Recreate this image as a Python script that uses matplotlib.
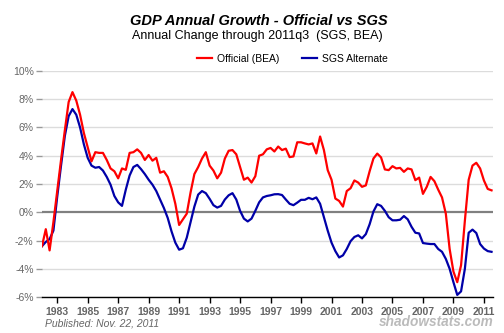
import numpy as np
import matplotlib

matplotlib.use("Agg")
import matplotlib.pyplot as plt


# =============================================================================
# DATA (quarterly, 1982q1 .. 2011q3, year-over-year % change)
# =============================================================================

START_YEAR = 1982

official = [
    -2.4, -1.2, -2.7, -0.7,    # 1982
    1.5, 3.7, 5.8, 7.8,        # 1983
    8.5, 7.9, 6.9, 5.6,        # 1984
    4.6, 3.6, 4.25, 4.2,       # 1985
    4.2, 3.7, 3.1, 2.9,        # 1986
    2.4, 3.1, 3.0, 4.2,        # 1987
    4.25, 4.45, 4.2, 3.7,      # 1988
    4.05, 3.65, 3.85, 2.8,     # 1989
    2.9, 2.5, 1.7, 0.6,        # 1990
    -0.9, -0.5, -0.1, 1.4,     # 1991
    2.7, 3.2, 3.8, 4.25,       # 1992
    3.3, 2.95, 2.4, 2.8,       # 1993
    3.8, 4.35, 4.4, 4.1,       # 1994
    3.2, 2.3, 2.45, 2.1,       # 1995
    2.55, 4.0, 4.1, 4.45,      # 1996
    4.55, 4.3, 4.65, 4.4,      # 1997
    4.5, 3.9, 3.95, 4.95,      # 1998
    4.95, 4.87, 4.8, 4.87,     # 1999
    4.16, 5.36, 4.4, 2.98,     # 2000
    2.3, 0.97, 0.8, 0.4,       # 2001
    1.5, 1.7, 2.25, 2.1,       # 2002
    1.8, 1.9, 2.9, 3.8,        # 2003
    4.15, 3.88, 3.03, 2.98,    # 2004
    3.26, 3.1, 3.14, 2.86,     # 2005
    3.1, 3.03, 2.27, 2.45,     # 2006
    1.3, 1.8, 2.5, 2.2,        # 2007
    1.6, 1.05, -0.1, -2.6,     # 2008
    -4.2, -4.95, -3.75, -0.6,  # 2009
    2.3, 3.3, 3.5, 3.1,        # 2010
    2.25, 1.65, 1.55,          # 2011
]

sgs = [
    -2.4, -2.1, -1.9, -1.3,     # 1982
    1.1, 3.3, 5.4, 6.8,         # 1983
    7.3, 6.9, 6.0, 4.8,         # 1984
    3.85, 3.3, 3.15, 3.2,       # 1985
    2.95, 2.5, 1.95, 1.15,      # 1986
    0.7, 0.45, 1.6, 2.6,        # 1987
    3.2, 3.35, 3.05, 2.7,       # 1988
    2.3, 1.95, 1.5, 0.9,        # 1989
    0.3, -0.4, -1.35, -2.15,    # 1990
    -2.65, -2.55, -1.8, -0.7,   # 1991
    0.4, 1.25, 1.5, 1.35,       # 1992
    0.95, 0.5, 0.33, 0.45,      # 1993
    0.9, 1.2, 1.35, 0.9,        # 1994
    0.1, -0.45, -0.65, -0.45,   # 1995
    0.1, 0.7, 1.05, 1.15,       # 1996
    1.2, 1.27, 1.28, 1.22,      # 1997
    0.9, 0.6, 0.5, 0.68,        # 1998
    0.88, 0.88, 1.02, 0.92,     # 1999
    1.05, 0.6, -0.35, -1.3,     # 2000
    -2.15, -2.75, -3.2, -3.05,  # 2001
    -2.6, -2.05, -1.75, -1.63,  # 2002
    -1.85, -1.55, -0.85, 0.05,  # 2003
    0.57, 0.45, 0.1, -0.35,     # 2004
    -0.57, -0.57, -0.53, -0.27, # 2005
    -0.5, -1.03, -1.45, -1.5,   # 2006
    -2.18, -2.22, -2.25, -2.25, # 2007
    -2.6, -2.8, -3.3, -4.0,     # 2008
    -4.95, -5.85, -5.6, -4.0,   # 2009
    -1.45, -1.23, -1.47, -2.25, # 2010
    -2.57, -2.75, -2.8,         # 2011
]

year_ticks = list(range(1983, 2012, 2))
pct_ticks = [-6, -4, -2, 0, 2, 4, 6, 8, 10]

TITLE = "GDP Annual Growth - Official vs SGS"
SUBTITLE = "Annual Change through 2011q3  (SGS, BEA)"
PUBLISHED = "Published: Nov. 22, 2011"
BRAND = "shadowstats.com"

# =============================================================================
# PLOT
# =============================================================================

plt.rcParams["font.family"] = ["Liberation Sans", "DejaVu Sans"]

RED = "#ff0000"
BLUE = "#0000a8"
GRID = "#dcdcdc"
LABEL = "#666666"

t = START_YEAR + np.arange(len(official)) / 4.0

fig = plt.figure(figsize=(5.04, 3.33), dpi=100)
ax = fig.add_axes([0.0833, 0.108, 0.895, 0.679])

for v in pct_ticks:
    if v != 0:
        ax.axhline(v, color=GRID, lw=1.0, zorder=1)
ax.axhline(0, color="#808080", lw=1.6, zorder=2)

ax.plot(t, official, color=RED, lw=1.6, label="Official (BEA)", zorder=4)
ax.plot(t, sgs, color=BLUE, lw=1.6, label="SGS Alternate", zorder=3)

ax.set_xlim(1982.0, 2011.6)
ax.set_ylim(-6, 10)
ax.set_xticks(year_ticks)
ax.set_xticklabels([str(y) for y in year_ticks], fontsize=7.5,
                   fontweight="bold", color=LABEL)
ax.set_yticks(pct_ticks)
ax.set_yticklabels([f"{v}%" for v in pct_ticks], fontsize=7.5, color=LABEL)

for side in ("top", "right", "left"):
    ax.spines[side].set_visible(False)
ax.spines["bottom"].set_color("black")
ax.spines["bottom"].set_linewidth(1.0)
ax.tick_params(axis="x", direction="out", length=4, width=1, color="black",
               pad=3)
ax.tick_params(axis="y", direction="out", length=4, width=1, color="#999999",
               pad=2)

fig.text(0.514, 0.938, TITLE, ha="center", va="center", fontsize=10.5,
         fontweight="bold", fontstyle="italic")
fig.text(0.51, 0.893, SUBTITLE, ha="center", va="center", fontsize=9)

ax.legend(loc="lower center", bbox_to_anchor=(0.555, 1.0), ncol=2,
          frameon=False, fontsize=7.5, handlelength=1.4, handletextpad=0.5,
          columnspacing=2.2, borderaxespad=0.3)

fig.text(0.089, 0.03, PUBLISHED, ha="left", va="center", fontsize=7.5,
         fontstyle="italic", color=LABEL)
fig.text(0.98, 0.033, BRAND, ha="right", va="center", fontsize=9.8,
         fontweight="bold", fontstyle="italic", color="#bbbbbb")

fig.savefig("out.png", dpi=100)
